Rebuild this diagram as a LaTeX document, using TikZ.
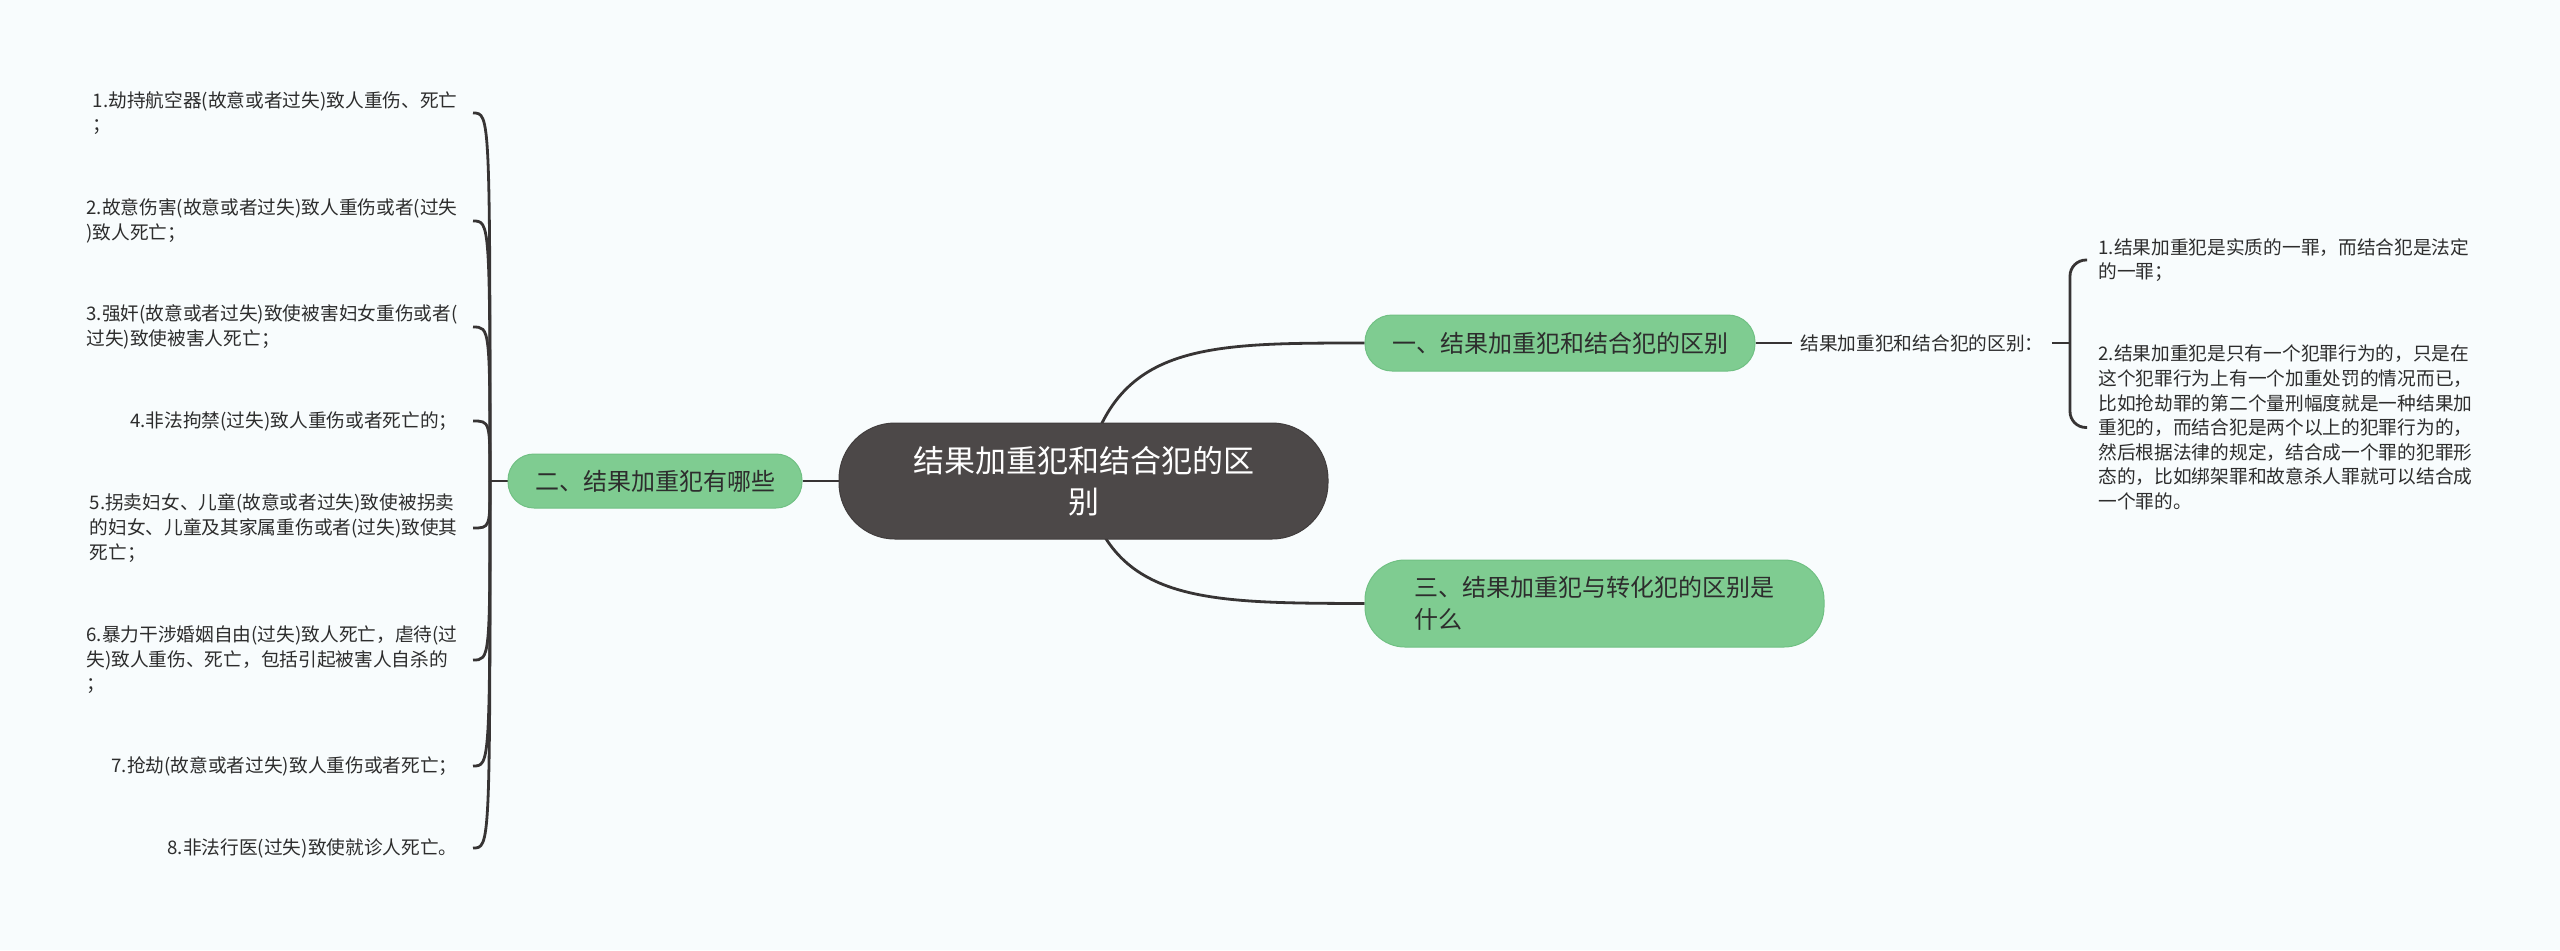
\documentclass[tikz,border=0pt]{standalone}
\usepackage{fontspec}
\newfontfamily\cjk{Noto Sans CJK SC}
\usetikzlibrary{backgrounds}
\definecolor{bg}{RGB}{248,252,253}
\definecolor{dark}{RGB}{76,72,72}
\definecolor{grn}{RGB}{127,204,145}
\definecolor{grnb}{RGB}{112,192,131}
\definecolor{ln}{RGB}{55,52,52}
\definecolor{txt}{RGB}{45,45,45}
\begin{document}
\begin{tikzpicture}[x=0.5pt,y=-0.5pt,
  conn/.style={draw=ln,line width=1.4pt},
  root/.style={fill=dark,draw=dark!85!black,line width=0.5pt,text=white,
    font=\cjk\fontsize{15.5}{20.5}\selectfont,align=center,
    minimum width=244.5pt,minimum height=58pt,rounded corners=28pt,inner sep=0pt},
  topic/.style={fill=grn,draw=grnb,line width=0.5pt,text=txt,
    font=\cjk\fontsize{12}{16}\selectfont,inner sep=0pt},
  leaf/.style={text=txt,font=\cjk\fontsize{9.35}{12.3}\selectfont,align=left,
    inner ysep=1pt,inner xsep=5.5pt},
  lleaf/.style={leaf,anchor=east,inner xsep=7.5pt},
]
\useasboundingbox (0,0) rectangle (2560,950);

% central
\node[root] (root) at (1083.5,481) {结果加重犯和结合犯的区\\别};

% main topics
\node[topic,minimum width=147pt,minimum height=27pt,rounded corners=13pt] (n2) at (655,481) {二、结果加重犯有哪些};
\node[topic,minimum width=195pt,minimum height=28pt,rounded corners=13.5pt] (n1) at (1560,343) {一、结果加重犯和结合犯的区别};
\node[topic,minimum width=229.5pt,minimum height=43.5pt,rounded corners=20pt,align=left,text width=180pt] (n3) at (1594.5,603.5) {三、结果加重犯与转化犯的区别是\\什么};

% right side
\node[leaf,anchor=west,inner xsep=4pt] (lab) at (1792,343) {结果加重犯和结合犯的区别：};
\coordinate (brk) at (2070,343);
\node[leaf,anchor=west] (r1) at (2087,260) {1.结果加重犯是实质的一罪，而结合犯是法定\\的一罪；};
\node[leaf,anchor=west] (r2) at (2087,427.5) {2.结果加重犯是只有一个犯罪行为的，只是在\\这个犯罪行为上有一个加重处罚的情况而已，\\比如抢劫罪的第二个量刑幅度就是一种结果加\\重犯的，而结合犯是两个以上的犯罪行为的，\\然后根据法律的规定，结合成一个罪的犯罪形\\态的，比如绑架罪和故意杀人罪就可以结合成\\一个罪的。};

% left side leaves
\coordinate (spine) at (490,481);
\node[lleaf] (l1) at (473,113) {1.劫持航空器(故意或者过失)致人重伤、死亡\\；};
\node[lleaf] (l2) at (473,221) {2.故意伤害(故意或者过失)致人重伤或者(过失\\)致人死亡；};
\node[lleaf] (l3) at (473,327) {3.强奸(故意或者过失)致使被害妇女重伤或者(\\过失)致使被害人死亡；};
\node[lleaf] (l4) at (473,421) {4.非法拘禁(过失)致人重伤或者死亡的；};
\node[lleaf] (l5) at (473,528) {5.拐卖妇女、儿童(故意或者过失)致使被拐卖\\的妇女、儿童及其家属重伤或者(过失)致使其\\死亡；};
\node[lleaf] (l6) at (473,660) {6.暴力干涉婚姻自由(过失)致人死亡，虐待(过\\失)致人重伤、死亡，包括引起被害人自杀的\\；};
\node[lleaf] (l7) at (473,766) {7.抢劫(故意或者过失)致人重伤或者死亡；};
\node[lleaf] (l8) at (473,848) {8.非法行医(过失)致使就诊人死亡。};

\begin{scope}[on background layer]
  \fill[bg] (0,0) rectangle (2560,950);
  \draw[conn] (root.center) .. controls (1110,343) and (1200,343) .. (n1.west);
  \draw[conn] (root.center) .. controls (1110,603) and (1200,603) .. (n3.west);
  \draw[conn] (root.west) -- (n2.east);
  \draw[conn] (n1.east) -- (lab.west);
  \draw[conn] (lab.east) -- (brk);
  \draw[conn,rounded corners=8pt] (r1.west) -| (brk) |- (r2.west);
  \draw[conn] (n2.west) -- (spine);
  \foreach \l in {l1,l2,l3,l4,l5,l6,l7,l8}{
    \draw[conn] (spine) .. controls (spine |- \l.east) and (spine |- \l.east) .. (\l.east);
  }
\end{scope}
\end{tikzpicture}
\end{document}
